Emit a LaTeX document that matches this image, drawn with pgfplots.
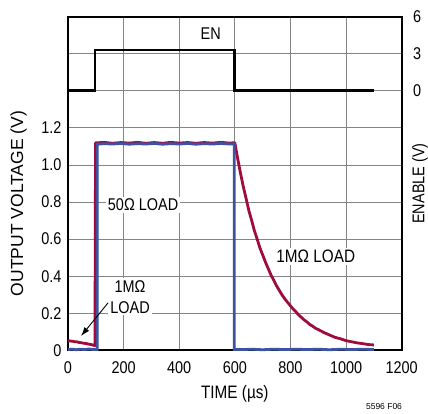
\documentclass[border=0pt]{standalone}
\usepackage{fontspec}
\setmainfont{Liberation Sans}[FakeStretch=0.85]
\newfontfamily\widefont{Liberation Sans}
\usepackage{pgfplots}
\pgfplotsset{compat=1.18}
\usetikzlibrary{arrows.meta}
\definecolor{lred}{HTML}{9E0B3C}
\definecolor{lblue}{HTML}{3D52A0}
\definecolor{lgrid}{HTML}{858585}
\begin{document}
\begin{tikzpicture}
\useasboundingbox (-68pt,-62.7pt) rectangle (360pt,350.3pt);
\begin{axis}[
 scale only axis, width=333.7pt, height=333.6pt,
 at={(0,0)}, anchor=south west,
 xmin=0,xmax=1200,ymin=0,ymax=1.8,
 xtick={0,200,400,600,800,1000,1200}, xticklabels={0,200,400,600,800,1000,1200},
 ytick={0,0.2,0.4,0.6,0.8,1.0,1.2,1.4,1.6},
 yticklabels={0,0.2,0.4,0.6,0.8,1.0,1.2,{},{}},
 grid=major, grid style={lgrid, line width=0.9pt},
 major tick length=0pt,
 axis line style={black, line width=2pt},
 tick label style={font=\fontsize{17}{20}\selectfont},
 xticklabel style={yshift=-8pt},
 yticklabel style={xshift=-3pt},
 xlabel={TIME (µs)},
 xlabel style={font=\fontsize{18}{21}\selectfont, at={(axis description cs:0.5,-0.13)}, anchor=center},
 ylabel={OUTPUT VOLTAGE (V)},
 ylabel style={font=\widefont\fontsize{17.5}{20}\selectfont, at={(axis description cs:-0.148,0.44)}, anchor=center},
 clip=false,
]
\addplot[lred, line width=2.8pt, line join=round] coordinates {
(0,0.052)(8,0.050)(16,0.049)(24,0.046)(32,0.046)(40,0.042)(48,0.041)(56,0.038)(64,0.037)(72,0.034)(80,0.032)(88,0.029)(97,0.025)
(99,1.119)(130,1.122)(160,1.117)(190,1.121)(220,1.118)(250,1.122)(280,1.117)(310,1.121)(340,1.117)(370,1.122)(400,1.118)(430,1.121)(460,1.117)(490,1.121)(520,1.118)(550,1.122)(580,1.118)(600,1.120)
(605,1.077)(610,1.036)(620,0.958)(630,0.886)(640,0.822)(650,0.756)(660,0.703)(670,0.647)(680,0.601)(690,0.553)(700,0.515)
(710,0.476)(720,0.441)(730,0.406)(740,0.378)(750,0.348)(760,0.323)(770,0.298)(780,0.277)(790,0.258)(800,0.240)
(810,0.222)(820,0.207)(830,0.190)(840,0.177)(850,0.163)(860,0.152)(870,0.139)(880,0.130)(890,0.119)(900,0.112)
(920,0.096)(940,0.083)(960,0.070)(980,0.062)(1000,0.052)(1020,0.046)(1040,0.040)(1060,0.036)(1080,0.031)(1100,0.029)
};
\addplot[lblue, line width=2.8pt, line join=miter] coordinates {
(0,0.004)(15,0.006)(30,0.003)(45,0.006)(60,0.004)(75,0.007)(90,0.004)(105,0.005)
(105,1.112)(130,1.115)(160,1.113)(190,1.116)(220,1.112)(250,1.115)(280,1.113)(310,1.116)(340,1.112)(370,1.115)(400,1.113)(430,1.116)(460,1.112)(490,1.115)(520,1.113)(550,1.116)(580,1.113)(598,1.114)
(598,0.005)(630,0.004)(660,0.006)(700,0.003)(740,0.006)(780,0.004)(820,0.006)(860,0.004)(900,0.006)(940,0.003)(980,0.006)(1020,0.004)(1060,0.006)(1100,0.004)
};
\node[fill=white, inner sep=2pt, font=\fontsize{17}{20}\selectfont] at (axis cs:270,0.785) {50Ω LOAD};
\node[fill=white, inner sep=2pt, align=center, font=\fontsize{17}{21}\selectfont] at (axis cs:223,0.288) {1MΩ\\LOAD};
\draw[-{Latex[length=9pt,width=6pt]}, line width=0.9pt] (axis cs:144,0.256) -- (axis cs:47,0.077);
\node[fill=white, inner sep=2pt, font=\fontsize{18}{20}\selectfont] at (axis cs:891,0.506) {1MΩ LOAD};
\node[font=\fontsize{17}{20}\selectfont] at (axis cs:513,1.707) {EN};
\node[font=\widefont\fontsize{8.5}{10}\selectfont] at (axis description cs:0.947,-0.168) {5596 F06};
\end{axis}
\begin{axis}[
 scale only axis, width=333.7pt, height=333.6pt,
 at={(0,0)}, anchor=south west,
 xmin=0,xmax=1200, ymin=-21, ymax=6,
 axis x line=none, axis y line*=right,
 ytick={0,3,6}, yticklabels={0,3,6}, major tick length=0pt,
 axis line style={black, line width=2pt},
 tick label style={font=\fontsize{17}{20}\selectfont},
 yticklabel style={xshift=8pt},
 ylabel={ENABLE (V)},
 ylabel style={font=\fontsize{17}{20}\selectfont, at={(axis description cs:1.055,0.5)}, anchor=center, rotate=0},
 clip=false,
]
\addplot[black, line width=2.8pt, line join=miter] coordinates {(0,0)(97,0)(97,3.3)(600,3.3)(600,0)(1100,0)};
\end{axis}
\end{tikzpicture}
\end{document}
